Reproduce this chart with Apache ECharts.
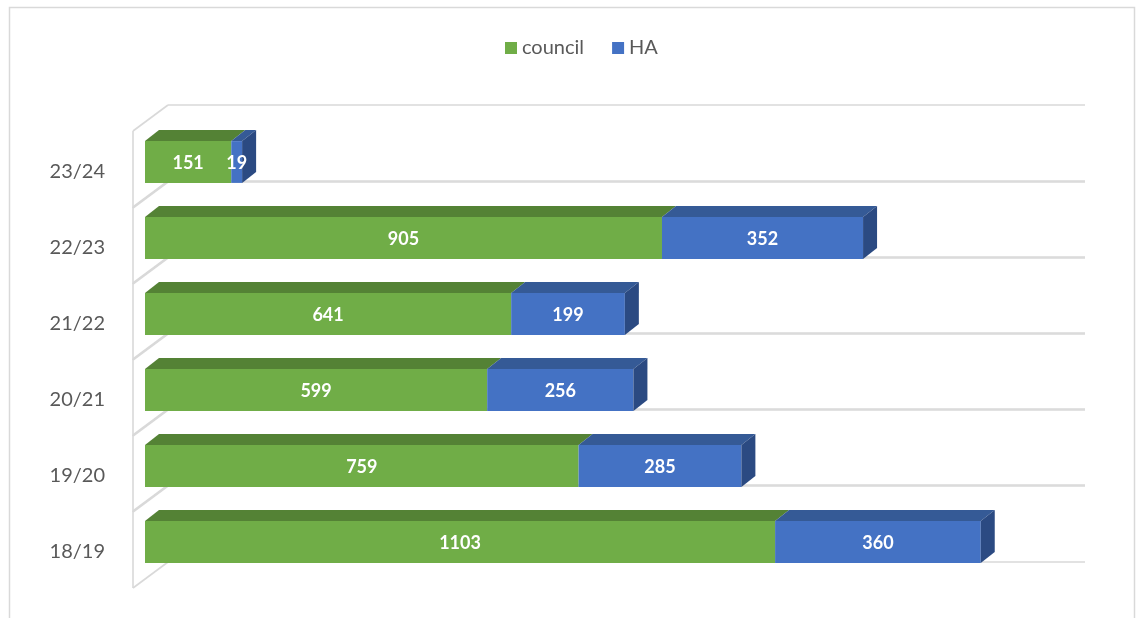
<!DOCTYPE html>
<html>
<head>
<meta charset="utf-8">
<script src="https://cdn.jsdelivr.net/npm/echarts@6/dist/echarts.min.js"></script>
<style>
html,body{margin:0;padding:0;background:#fff;}
#chart{width:1136px;height:618px;}
</style>
</head>
<body>
<div id="chart"></div>
<script>
const categories = ['18/19', '19/20', '20/21', '21/22', '22/23', '23/24'];
const council = [1103, 759, 599, 641, 905, 151];
const ha = [360, 285, 256, 199, 352, 19];
const seriesNames = ['council', 'HA'];
const axisMax = 1600;

const FONT = 'Lato, "Liberation Sans", Arial, sans-serif';
const DX = 14, DY = 11;
const faces = {
  council: { front: '#70AD47', top: '#548235', side: '#46702c' },
  HA: { front: '#4472C4', top: '#355A96', side: '#2B4A82' }
};

const chart = echarts.init(document.getElementById('chart'));

function barRender(name, withSide) {
  return function (params, api) {
    const cat = api.value(0);
    const s = api.value(1), e = api.value(2), v = api.value(3);
    const p0 = api.coord([s, cat]);
    const p1 = api.coord([e, cat]);
    const band = api.size([0, 1])[1];
    const h = band * 0.55;
    const yt = p0[1] - h / 2, yb = p0[1] + h / 2;
    const x0 = p0[0], x1 = p1[0];
    const f = faces[name];
    const children = [
      { type: 'polygon', shape: { points: [[x0, yt], [x1, yt], [x1 + DX, yt - DY], [x0 + DX, yt - DY]] }, style: { fill: f.top } },
      { type: 'rect', shape: { x: x0, y: yt, width: x1 - x0, height: h }, style: { fill: f.front } }
    ];
    if (withSide) {
      children.push({ type: 'polygon', shape: { points: [[x1, yt], [x1 + DX, yt - DY], [x1 + DX, yb - DY], [x1, yb]] }, style: { fill: f.side } });
    }
    children.push({
      type: 'text',
      style: { text: String(v), x: (x0 + x1) / 2, y: p0[1] + 1, align: 'center', verticalAlign: 'middle', fill: '#ffffff', font: 'bold 18px ' + FONT }
    });
    return { type: 'group', children: children };
  };
}

function wallRender(params, api) {
  const i = api.value(0);
  const c0 = api.coord([0, i]);
  const cM = api.coord([axisMax, i]);
  const band = api.size([0, 1])[1];
  const topB = c0[1] - band / 2, botB = c0[1] + band / 2;
  const lc = '#d9d9d9', lw = 1.6;
  const fx = c0[0] - 12, bx = c0[0] + 23, ex = cM[0] + 26;
  const line = (a, b, c, d) => ({ type: 'line', shape: { x1: a, y1: b, x2: c, y2: d }, style: { stroke: lc, lineWidth: lw } });
  return {
    type: 'group',
    children: [
      line(bx, topB - 19, ex, topB - 19),
      line(bx, botB - 18, ex, botB - 18),
      line(fx, topB + 7, bx, topB - 19),
      line(fx, botB + 8, bx, botB - 18),
      line(fx, topB + 7, fx, botB + 8)
    ]
  };
}

const councilData = categories.map((c, i) => [i, 0, council[i], council[i]]);
const haData = categories.map((c, i) => [i, council[i], council[i] + ha[i], ha[i]]);
const wallData = categories.map((c, i) => [i, 0]);

chart.setOption({
  animation: false,
  backgroundColor: '#ffffff',
  graphic: [{
    type: 'rect', silent: true, z: -10,
    shape: { x: 9.5, y: 7.5, width: 1125, height: 640 },
    style: { fill: 'none', stroke: '#d9d9d9', lineWidth: 1.5 }
  }],
  legend: {
    data: seriesNames,
    left: 500, top: 33,
    icon: 'rect', itemWidth: 12, itemHeight: 12, itemGap: 28,
    textStyle: { fontSize: 20, color: '#595959', fontFamily: FONT }
  },
  grid: { left: 145, right: 77, top: 124, bottom: 38 },
  xAxis: {
    type: 'value', min: 0, max: axisMax, show: false,
    splitLine: { show: false }
  },
  yAxis: {
    type: 'category', data: categories,
    axisLine: { show: false }, axisTick: { show: false },
    axisLabel: { margin: 40, fontSize: 20, color: '#595959', fontFamily: FONT, verticalAlign: 'top', lineHeight: 20 }
  },
  series: [
    { type: 'custom', name: 'walls', silent: true, z: 1, data: wallData, encode: { y: 0, x: 1 }, renderItem: wallRender },
    { type: 'custom', name: 'council', z: 2, itemStyle: { color: '#70AD47' }, data: councilData, encode: { y: 0, x: [1, 2] }, renderItem: barRender('council', false) },
    { type: 'custom', name: 'HA', z: 3, itemStyle: { color: '#4472C4' }, data: haData, encode: { y: 0, x: [1, 2] }, renderItem: barRender('HA', true) }
  ]
});
</script>
</body>
</html>
